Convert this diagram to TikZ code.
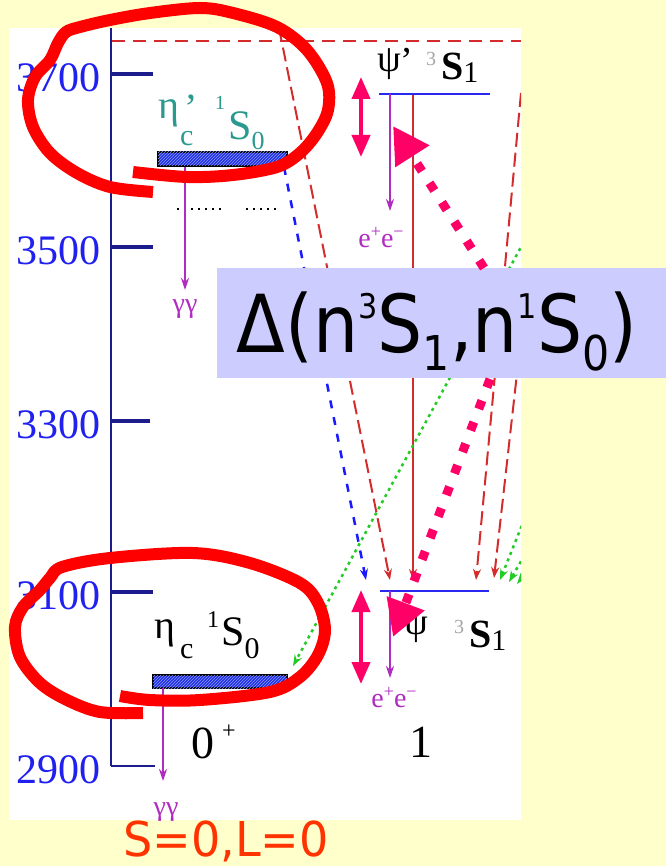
\documentclass[tikz,border=0pt]{standalone}
\usepackage{graphicx}
\usepackage{fontspec}
\setmainfont{Liberation Serif}
\newfontfamily\dejavu{DejaVu Sans}
\usetikzlibrary{arrows.meta,patterns}
\definecolor{bgyellow}{HTML}{FFFFCC}
\definecolor{axisnavy}{HTML}{1C1C8C}
\definecolor{tickblue}{HTML}{2020F0}
\definecolor{tealc}{HTML}{2A9A8E}
\definecolor{purp}{HTML}{B02CC0}
\definecolor{pinkc}{HTML}{FF0066}
\definecolor{redd}{HTML}{D42C2C}
\definecolor{greend}{HTML}{22CC22}
\definecolor{blued}{HTML}{1A1AFF}
\definecolor{levblue}{HTML}{2828F0}
\definecolor{boxc}{HTML}{CCCCFF}
\definecolor{orangered}{HTML}{FF3300}
\definecolor{hatchblue}{HTML}{2030E0}
\definecolor{hatchlight}{HTML}{8C98FF}
\definecolor{markred}{HTML}{FF0000}
\newcommand{\myup}[1]{\raisebox{34pt}{\fontsize{34}{34}\selectfont #1}}
\newcommand{\mydn}[1]{\raisebox{-18pt}{\fontsize{48}{48}\selectfont #1}}
\newcommand{\smallsup}[1]{\raisebox{10pt}{\fontsize{18}{18}\selectfont #1}}
\tikzset{
  lab/.style={inner sep=0pt, font=\fontsize{40}{40}\selectfont},
  ticklab/.style={inner sep=0pt, anchor=east, text=tickblue, font=\fontsize{42}{42}\selectfont},
  level/.style={draw=levblue, line width=2.5pt},
  hatchbar/.style={fill=hatchblue, draw=black, line width=1.2pt, postaction={pattern=north east lines, pattern color=hatchlight}},
  decay/.style={draw=purp, line width=1.8pt, -{Stealth[length=12pt,width=8pt]}},
  decaylab/.style={inner sep=0pt, text=purp, font=\fontsize{28}{28}\selectfont},
  redtrans/.style={draw=redd, line width=2pt, dash pattern=on 14pt off 6pt, -{Stealth[length=11pt,width=8pt]}},
  redsolid/.style={draw=redd, line width=2pt, -{Stealth[length=11pt,width=8pt]}},
  bluetrans/.style={draw=blued, line width=2.5pt, dash pattern=on 8pt off 9pt, -{Stealth[length=11pt,width=8pt]}},
  greentrans/.style={draw=greend, line width=2.5pt, dash pattern=on 3pt off 4pt, -{Stealth[length=11pt,width=8pt]}},
  pinkdots/.style={draw=pinkc, line width=9pt, dash pattern=on 9pt off 14pt, -{Triangle[length=36pt,width=38pt]}},
  pinkspan/.style={draw=pinkc, line width=4pt, {Triangle[length=22pt,width=18pt]}-{Triangle[length=22pt,width=18pt]}},
  handmark/.style={draw=markred, line width=12pt, line join=round},
}
\begin{document}
\begin{tikzpicture}[x=1pt,y=-1pt]
\fill[bgyellow] (0,0) rectangle (666,866);
\useasboundingbox (0,0) rectangle (666,866);
\fill[white] (9,28) rectangle (521,820);
\begin{scope}
\clip (9,28) rectangle (521,820);
% axis
\coordinate (axTop) at (111,28);
\coordinate (axBot) at (111,766);
\draw[axisnavy, line width=2.5pt] (axTop) -- (axBot);
\foreach \v/\y/\l/\w in {3700/74/153/4.5pt, 3500/247/153/4.5pt, 3300/421/150/3.5pt, 3100/592/153/4.5pt, 2900/766/155/2.2pt} {
  \coordinate (tk\v) at (111,\y);
  \coordinate (tke\v) at (\l,\y);
  \draw[axisnavy, line width=\w] (tk\v) -- (tke\v);
  \node[ticklab] (lab\v) at (101,{\y+4}) {\v};
}
% threshold
\coordinate (thrL) at (112,41.5);
\coordinate (thrR) at (521,41.5);
\draw[redd, line width=2pt, dash pattern=on 13pt off 8pt] (thrL) -- (thrR);
% dotted
\coordinate (d1a) at (177,209); \coordinate (d1b) at (223,209);
\coordinate (d2a) at (246,209); \coordinate (d2b) at (277,209);
\draw[black, line width=1.6pt, dash pattern=on 2pt off 5pt] (d1a) -- (d1b) (d2a) -- (d2b);
% transitions
\coordinate (r1a) at (279,28); \coordinate (r1b) at (390,580);
\coordinate (r2a) at (521,93); \coordinate (r2b) at (476,580);
\coordinate (r3a) at (523,320); \coordinate (r3b) at (494,578);
\coordinate (rsa) at (413,94); \coordinate (rsb) at (413,580);
\coordinate (ba) at (284,167); \coordinate (bb) at (366,580);
\coordinate (ga) at (527,236); \coordinate (gb) at (293,666);
\coordinate (g1a) at (532,500); \coordinate (g1b) at (500,580);
\coordinate (g2a) at (542,525); \coordinate (g2b) at (509,582);
\coordinate (g3a) at (548,545); \coordinate (g3b) at (517,584);
\draw[redtrans] (r1a) -- (r1b);
\draw[redtrans] (r2a) -- (r2b);
\draw[redtrans] (r3a) -- (r3b);
\draw[redsolid] (rsa) -- (rsb);
\draw[bluetrans] (ba) -- (bb);
\draw[greentrans] (ga) -- (gb);
\draw[greentrans] (g1a) -- (g1b);
\draw[greentrans] (g2a) -- (g2b);
\draw[greentrans] (g3a) -- (g3b);
% levels
\coordinate (psipL) at (379,94); \coordinate (psipR) at (490,94);
\coordinate (jpsiL) at (380,591); \coordinate (jpsiR) at (489,591);
\draw[level] (psipL) -- (psipR);
\draw[level] (jpsiL) -- (jpsiR);
\coordinate (etapNW) at (158,152); \coordinate (etapSE) at (287,166);
\coordinate (etaNW) at (153,675); \coordinate (etaSE) at (287,688);
\draw[hatchbar] (etapNW) rectangle (etapSE);
\draw[hatchbar] (etaNW) rectangle (etaSE);
% decays
\coordinate (dec1a) at (185,167); \coordinate (dec1b) at (185,290);
\coordinate (dec2a) at (163,688); \coordinate (dec2b) at (163,781);
\coordinate (dec3a) at (390,94); \coordinate (dec3b) at (390,211);
\coordinate (dec4a) at (390,591); \coordinate (dec4b) at (390,678);
\draw[decay] (dec1a) -- (dec1b);
\draw[decay] (dec2a) -- (dec2b);
\draw[decay] (dec3a) -- (dec3b);
\draw[decay] (dec4a) -- (dec4b);
\node[decaylab, anchor=base] (gg1) at (185,312) {γγ};
\node[decaylab, anchor=base] (gg2) at (166,815) {γγ};
\node[decaylab, anchor=base] (ee1) at (381,248) {e\smallsup{+}e\smallsup{−}};
\node[decaylab, anchor=base] (ee2) at (394,707) {e\smallsup{+}e\smallsup{−}};
% level labels
\node[lab, text=tealc, anchor=base west] (etapName) at (158,119) {η\makebox[0pt][l]{\hspace{5pt}\raisebox{-3pt}{’}}\hspace{1pt}\raisebox{-27pt}{\fontsize{30}{30}\selectfont c}};
\node[lab, text=tealc, anchor=base west] (etapTerm) at (215,140) {\raisebox{30pt}{\fontsize{20}{20}\selectfont 1}\hspace{3pt}{\fontsize{42}{42}\selectfont S}\raisebox{-10pt}{\fontsize{26}{26}\selectfont 0}};
\node[lab, anchor=base west] (etaName) at (154,638) {η\hspace{5pt}\raisebox{-20pt}{\fontsize{30}{30}\selectfont c}};
\node[lab, anchor=base west] (etaTerm) at (207,645) {\raisebox{18pt}{\fontsize{24}{24}\selectfont 1}\hspace{2pt}{\fontsize{42}{42}\selectfont S}\raisebox{-13pt}{\fontsize{30}{30}\selectfont 0}};
\node[lab, anchor=base west, font=\fontsize{38}{38}\selectfont] (psipName) at (377,72) {ψ\raisebox{-2pt}{’}};
\node[lab, anchor=base west] (psipTerm) at (426,80) {\textcolor{black!35}{\raisebox{14pt}{\fontsize{20}{20}\selectfont 3}}\hspace{5pt}\textbf{S}\raisebox{-3pt}{\fontsize{30}{30}\selectfont 1}};
\node[lab, anchor=base west, font=\fontsize{38}{38}\selectfont] (psiName) at (404,634) {ψ};
\node[lab, anchor=base west] (psiTerm) at (454,647) {\textcolor{black!35}{\raisebox{14pt}{\fontsize{20}{20}\selectfont 3}}\hspace{5pt}\textbf{S}\raisebox{-3pt}{\fontsize{30}{30}\selectfont 1}};
\node[lab, anchor=base west, font=\fontsize{46}{46}\selectfont] (parEta) at (191,758) {0\hspace{8pt}\raisebox{20pt}{\fontsize{24}{24}\selectfont +}};
\node[lab, font=\fontsize{46}{46}\selectfont] (parPsi) at (421,742) {1};
% splittings
\coordinate (sp1a) at (361,77); \coordinate (sp1b) at (361,157);
\coordinate (sp2a) at (361,590); \coordinate (sp2b) at (361,684);
\draw[pinkspan] (sp1a) -- (sp1b);
\draw[pinkspan] (sp2a) -- (sp2b);
\end{scope}
% box
\node[fill=boxc, minimum width=449pt, minimum height=110pt, anchor=north west, inner sep=0pt] (deltaBox) at (217,268) {};
\node[inner sep=0pt, anchor=base, font=\dejavu\fontsize{80}{80}\selectfont] (deltaTxt) at (437,352) {\scalebox{0.89}[1]{Δ(n\myup{3}S\mydn{1},n\myup{1}S\mydn{0})}};
% pink dotted arrows
\coordinate (pu0) at (484,268); \coordinate (pu1) at (393,126);
\coordinate (pd0) at (490,379); \coordinate (pd1) at (393,637);
\draw[pinkdots] (pu0) -- (pu1);
\draw[pinkdots] (pd0) -- (pd1);
% bottom label
\node[inner sep=0pt, anchor=base west, text=orangered, font=\dejavu\fontsize{48}{48}\selectfont] (slLab) at (123,856) {\scalebox{0.96}[1]{S=0,L=0}};
% hand-drawn marks
\draw[handmark] plot[smooth, tension=0.55] coordinates {(153,192) (110,187) (77,173) (50,153) (33,127) (28,100) (35,77) (50,60) (58,43) (66,32) (80,27) (110,20) (150,13) (200,8) (233,13) (277,27) (307,50) (327,83) (328,110) (317,133) (300,153) (277,167) (233,175) (187,177) (133,172)};
\draw[handmark] plot[smooth, tension=0.55] coordinates {(143,713) (100,712) (67,700) (40,683) (20,657) (15,627) (23,607) (40,590) (50,578) (62,567) (110,558) (193,553) (250,563) (300,583) (318,603) (325,630) (318,655) (300,677) (270,692) (200,700) (150,700) (120,696)};
\end{tikzpicture}
\end{document}
